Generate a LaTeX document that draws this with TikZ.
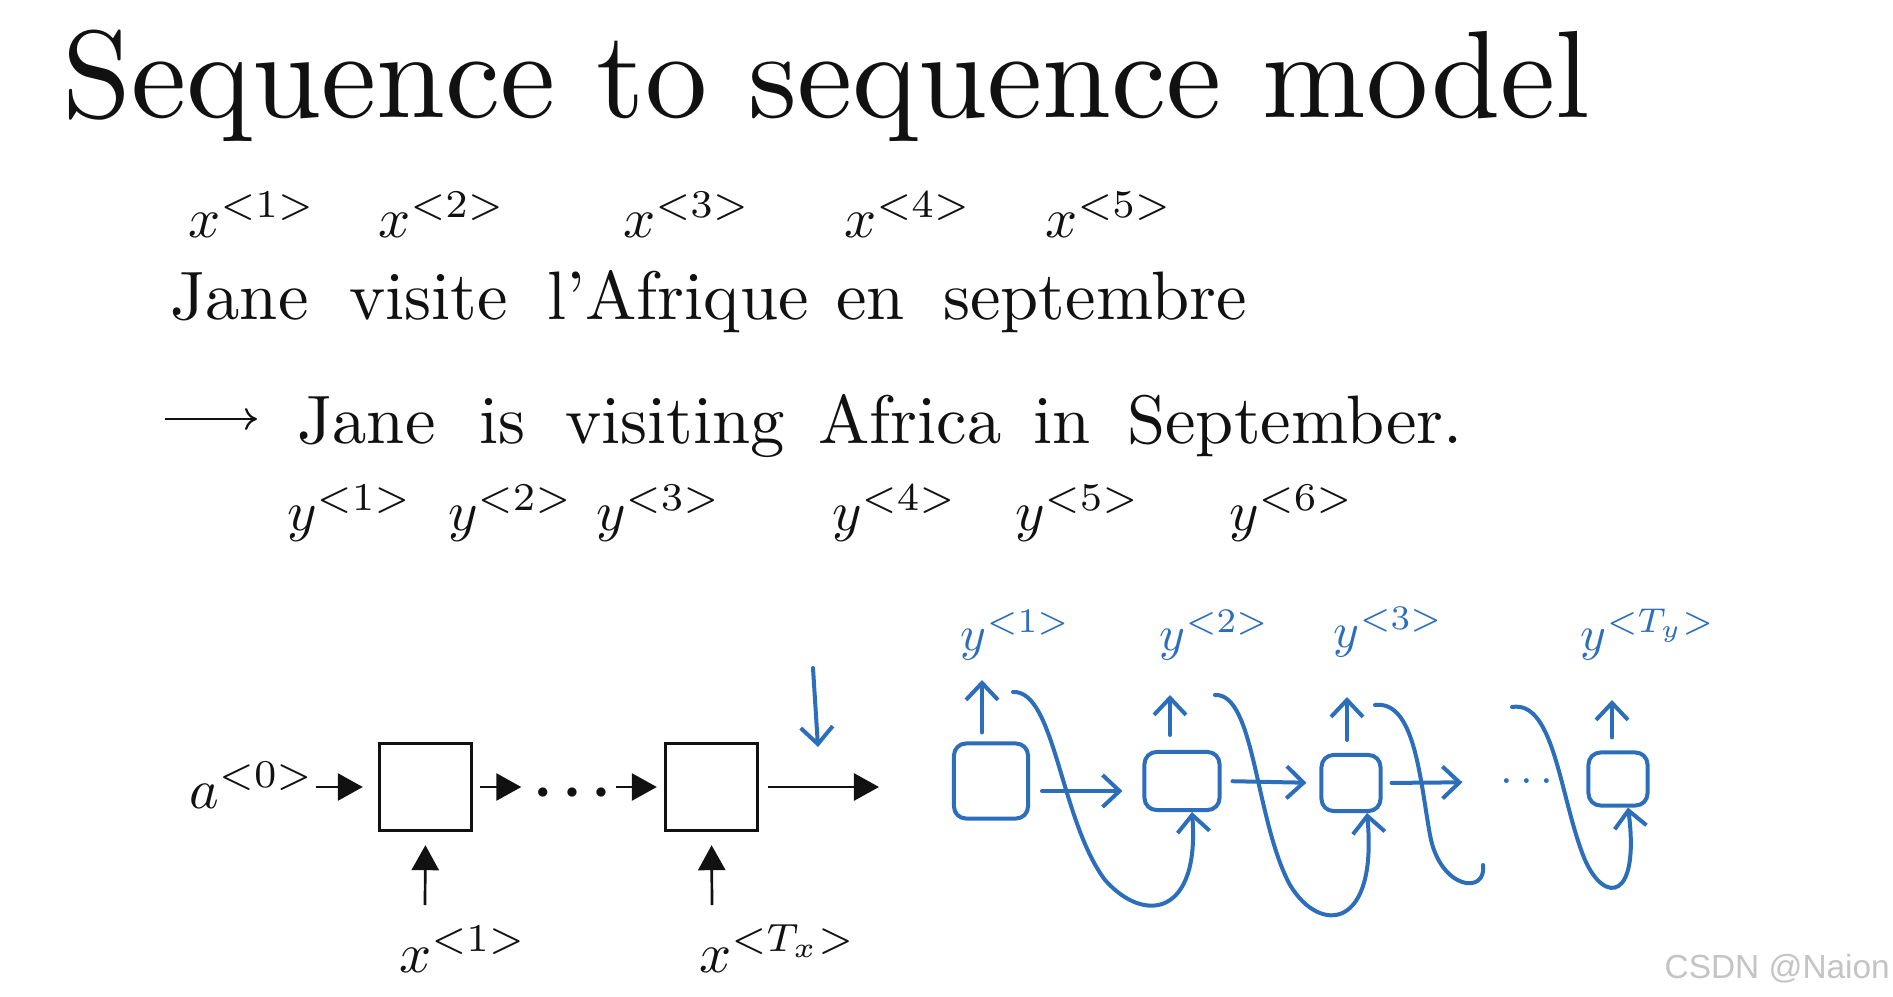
\documentclass[tikz,border=0pt]{standalone}
\usepackage{fontspec}
\usepackage{graphicx}
\usetikzlibrary{arrows.meta,calc}
\newfontfamily\wmfont{Liberation Sans}
\definecolor{mInk}{HTML}{111111}
\definecolor{mPen}{HTML}{2D6EBB}
\definecolor{mMark}{HTML}{C4C4C4}
\tikzset{
 titletext/.style={inner sep=0pt, anchor=base west, scale=3.53, text=mInk},
 slidetext/.style={inner sep=0pt, anchor=base west, scale=1.95, text=mInk},
 sub/.style={inner sep=0pt, anchor=base west, scale=1.6, text=mInk},
 cell/.style={draw=mInk, line width=0.033cm, minimum width=0.92cm, minimum height=0.87cm, inner sep=0pt},
 flow/.style={draw=mInk, line width=0.027cm, -{Triangle[length=0.25cm,width=0.27cm]}},
 pen/.style={draw=mPen, line width=0.04cm, line cap=round, line join=round},
 penarrow/.style={pen, -{Straight Barb[length=0.17cm,width=0.32cm]}},
 penbox/.style={pen, rounded corners=0.12cm, inner sep=0pt},
 penlabel/.style={text=mPen, inner sep=0pt, anchor=base west, scale=1.4},
}
\newcommand{\wordnode}[3]{\node[slidetext] (#1) at (#2) {#3};}
\newcommand{\idxnode}[3]{\node[sub] (#1) at (#2) {$#3$};}

\begin{document}
\begin{tikzpicture}[x=0.01cm, y=-0.01cm]
\fill[white] (0,0) rectangle (1893,997);
\useasboundingbox (0,0) rectangle (1893,997);

% title
\node[titletext] (title) at (60,118) {Sequence to sequence model};

% source sentence
\idxnode{xs1}{187,238}{x^{<1>}}
\idxnode{xs2}{377,238}{x^{<2>}}
\idxnode{xs3}{622,238}{x^{<3>}}
\idxnode{xs4}{843,238}{x^{<4>}}
\idxnode{xs5}{1044,238}{x^{<5>}}
\wordnode{fr1}{169,320}{Jane}
\wordnode{fr2}{348,320}{visite}
\wordnode{fr3}{546,320}{l'Afrique}
\wordnode{fr4}{835,320}{en}
\wordnode{fr5}{942,320}{septembre}

% target sentence
\coordinate (tr0) at (165,419);
\coordinate (tr1) at (257,419);
\draw[draw=mInk, line width=0.022cm, -{Computer Modern Rightarrow[length=0.12cm,width=0.22cm]}] (tr0) -- (tr1);
\wordnode{en1}{296,443}{Jane}
\wordnode{en2}{478,443}{is}
\wordnode{en3}{564,443}{visiting}
\wordnode{en4}{817,443}{Africa}
\wordnode{en5}{1032,443}{in}
\wordnode{en6}{1126,443}{September.}
\idxnode{ys1}{286,531}{y^{<1>}}
\idxnode{ys2}{447,531}{y^{<2>}}
\idxnode{ys3}{595,531}{y^{<3>}}
\idxnode{ys4}{831,531}{y^{<4>}}
\idxnode{ys5}{1014,531}{y^{<5>}}
\idxnode{ys6}{1228,531}{y^{<6>}}

% encoder
\idxnode{a0}{188,808}{a^{<0>}}
\node[cell] (c1) at (425.5,787) {};
\node[cell] (c2) at (711.5,787) {};
\node[inner sep=0pt, scale=0.68, text=mInk] (dots) at (572,793) {$\bullet\hspace{5pt}\bullet\hspace{5pt}\bullet$};
\idxnode{xin1}{398,972}{x^{<1>}}
\idxnode{xinT}{698,972}{x^{<T_x>}}
\coordinate (up1) at (425,905);
\coordinate (up2) at (712,905);
\coordinate (out) at (879,787);
\draw[flow, shorten >=0.15cm] (a0.east |- c1.west) -- (c1.west);
\draw[flow, shorten <=0.07cm, shorten >=0.15cm] (c1.east) -- (dots.west |- c1.east);
\draw[flow, shorten <=0.08cm, shorten >=0.07cm] (dots.east |- c2.west) -- (c2.west);
\draw[flow, shorten <=0.09cm] (c2.east) -- (out);
\draw[flow, shorten >=0.13cm] (up1) -- (c1.south);
\draw[flow, shorten >=0.13cm] (up2) -- (c2.south);

% decoder (pen)
\coordinate (dn0) at (813,668);
\coordinate (dn1) at (818,747);
\draw[penarrow] (dn0) -- (dn1);
\node[penbox, minimum width=0.74cm, minimum height=0.75cm] (bA) at (991,781) {};
\node[penbox, minimum width=0.75cm, minimum height=0.58cm] (bB) at (1182,781) {};
\node[penbox, minimum width=0.59cm, minimum height=0.56cm] (bC) at (1351,783) {};
\node[penbox, minimum width=0.59cm, minimum height=0.53cm] (bD) at (1618,779) {};
\node[text=mPen, inner sep=0pt, scale=1.3] (pdots) at (1527,782) {$\cdots$};
\node[penlabel] (yA) at (960,650) {$y^{<1>}$};
\node[penlabel] (yB) at (1159,650) {$y^{<2>}$};
\node[penlabel] (yC) at (1333,647) {$y^{<3>}$};
\node[penlabel] (yD) at (1580,650) {$y^{<T_y>}$};
\coordinate (oA) at (982,680);
\coordinate (oB) at (1170,695);
\coordinate (oC) at (1347,697);
\coordinate (oD) at (1612,700);
\draw[penarrow, shorten <=0.09cm] (bA.north -| oA) -- (oA);
\draw[penarrow, shorten <=0.15cm] (bB.north -| oB) -- (oB);
\draw[penarrow, shorten <=0.13cm] (bC.north -| oC) -- (oC);
\draw[penarrow, shorten <=0.13cm] (bD.north -| oD) -- (oD);
\draw[penarrow, shorten <=0.12cm, shorten >=0.2cm] ([yshift=-0.1cm]bA.east) -- ([yshift=-0.1cm]bB.west);
\draw[penarrow, shorten <=0.11cm, shorten >=0.13cm] (bB.east) -- (bC.west);
\draw[penarrow, shorten <=0.09cm, shorten >=0.37cm] (bC.east) -- (pdots.west);
\coordinate (lA) at (1013,692);
\coordinate (lB) at (1215,695);
\coordinate (lC) at (1375,705);
\coordinate (lD) at (1512,707);
\coordinate (hk) at (1483,865);
\draw[penarrow] (lA) .. controls (1055,690) and (1060,820) .. (1105,880) .. controls (1145,925) and (1200,915) .. ([xshift=0.1cm]bB.south);
\draw[penarrow] (lB) .. controls (1255,693) and (1255,820) .. (1290,885) .. controls (1320,935) and (1378,930) .. ([xshift=0.16cm]bC.south);
\draw[pen] (lC) .. controls (1415,700) and (1420,780) .. (1430,835) .. controls (1440,890) and (1487,895) .. (hk);
\draw[penarrow] (lD) .. controls (1555,700) and (1560,800) .. (1585,860) .. controls (1605,905) and (1640,900) .. ([xshift=0.1cm]bD.south);

% watermark
\node[anchor=base west, inner sep=0pt, font={\wmfont\fontsize{9.5}{11}\selectfont}, text=mMark] (wm) at (1664,978) {CSDN @Naion};
\end{tikzpicture}
\end{document}
